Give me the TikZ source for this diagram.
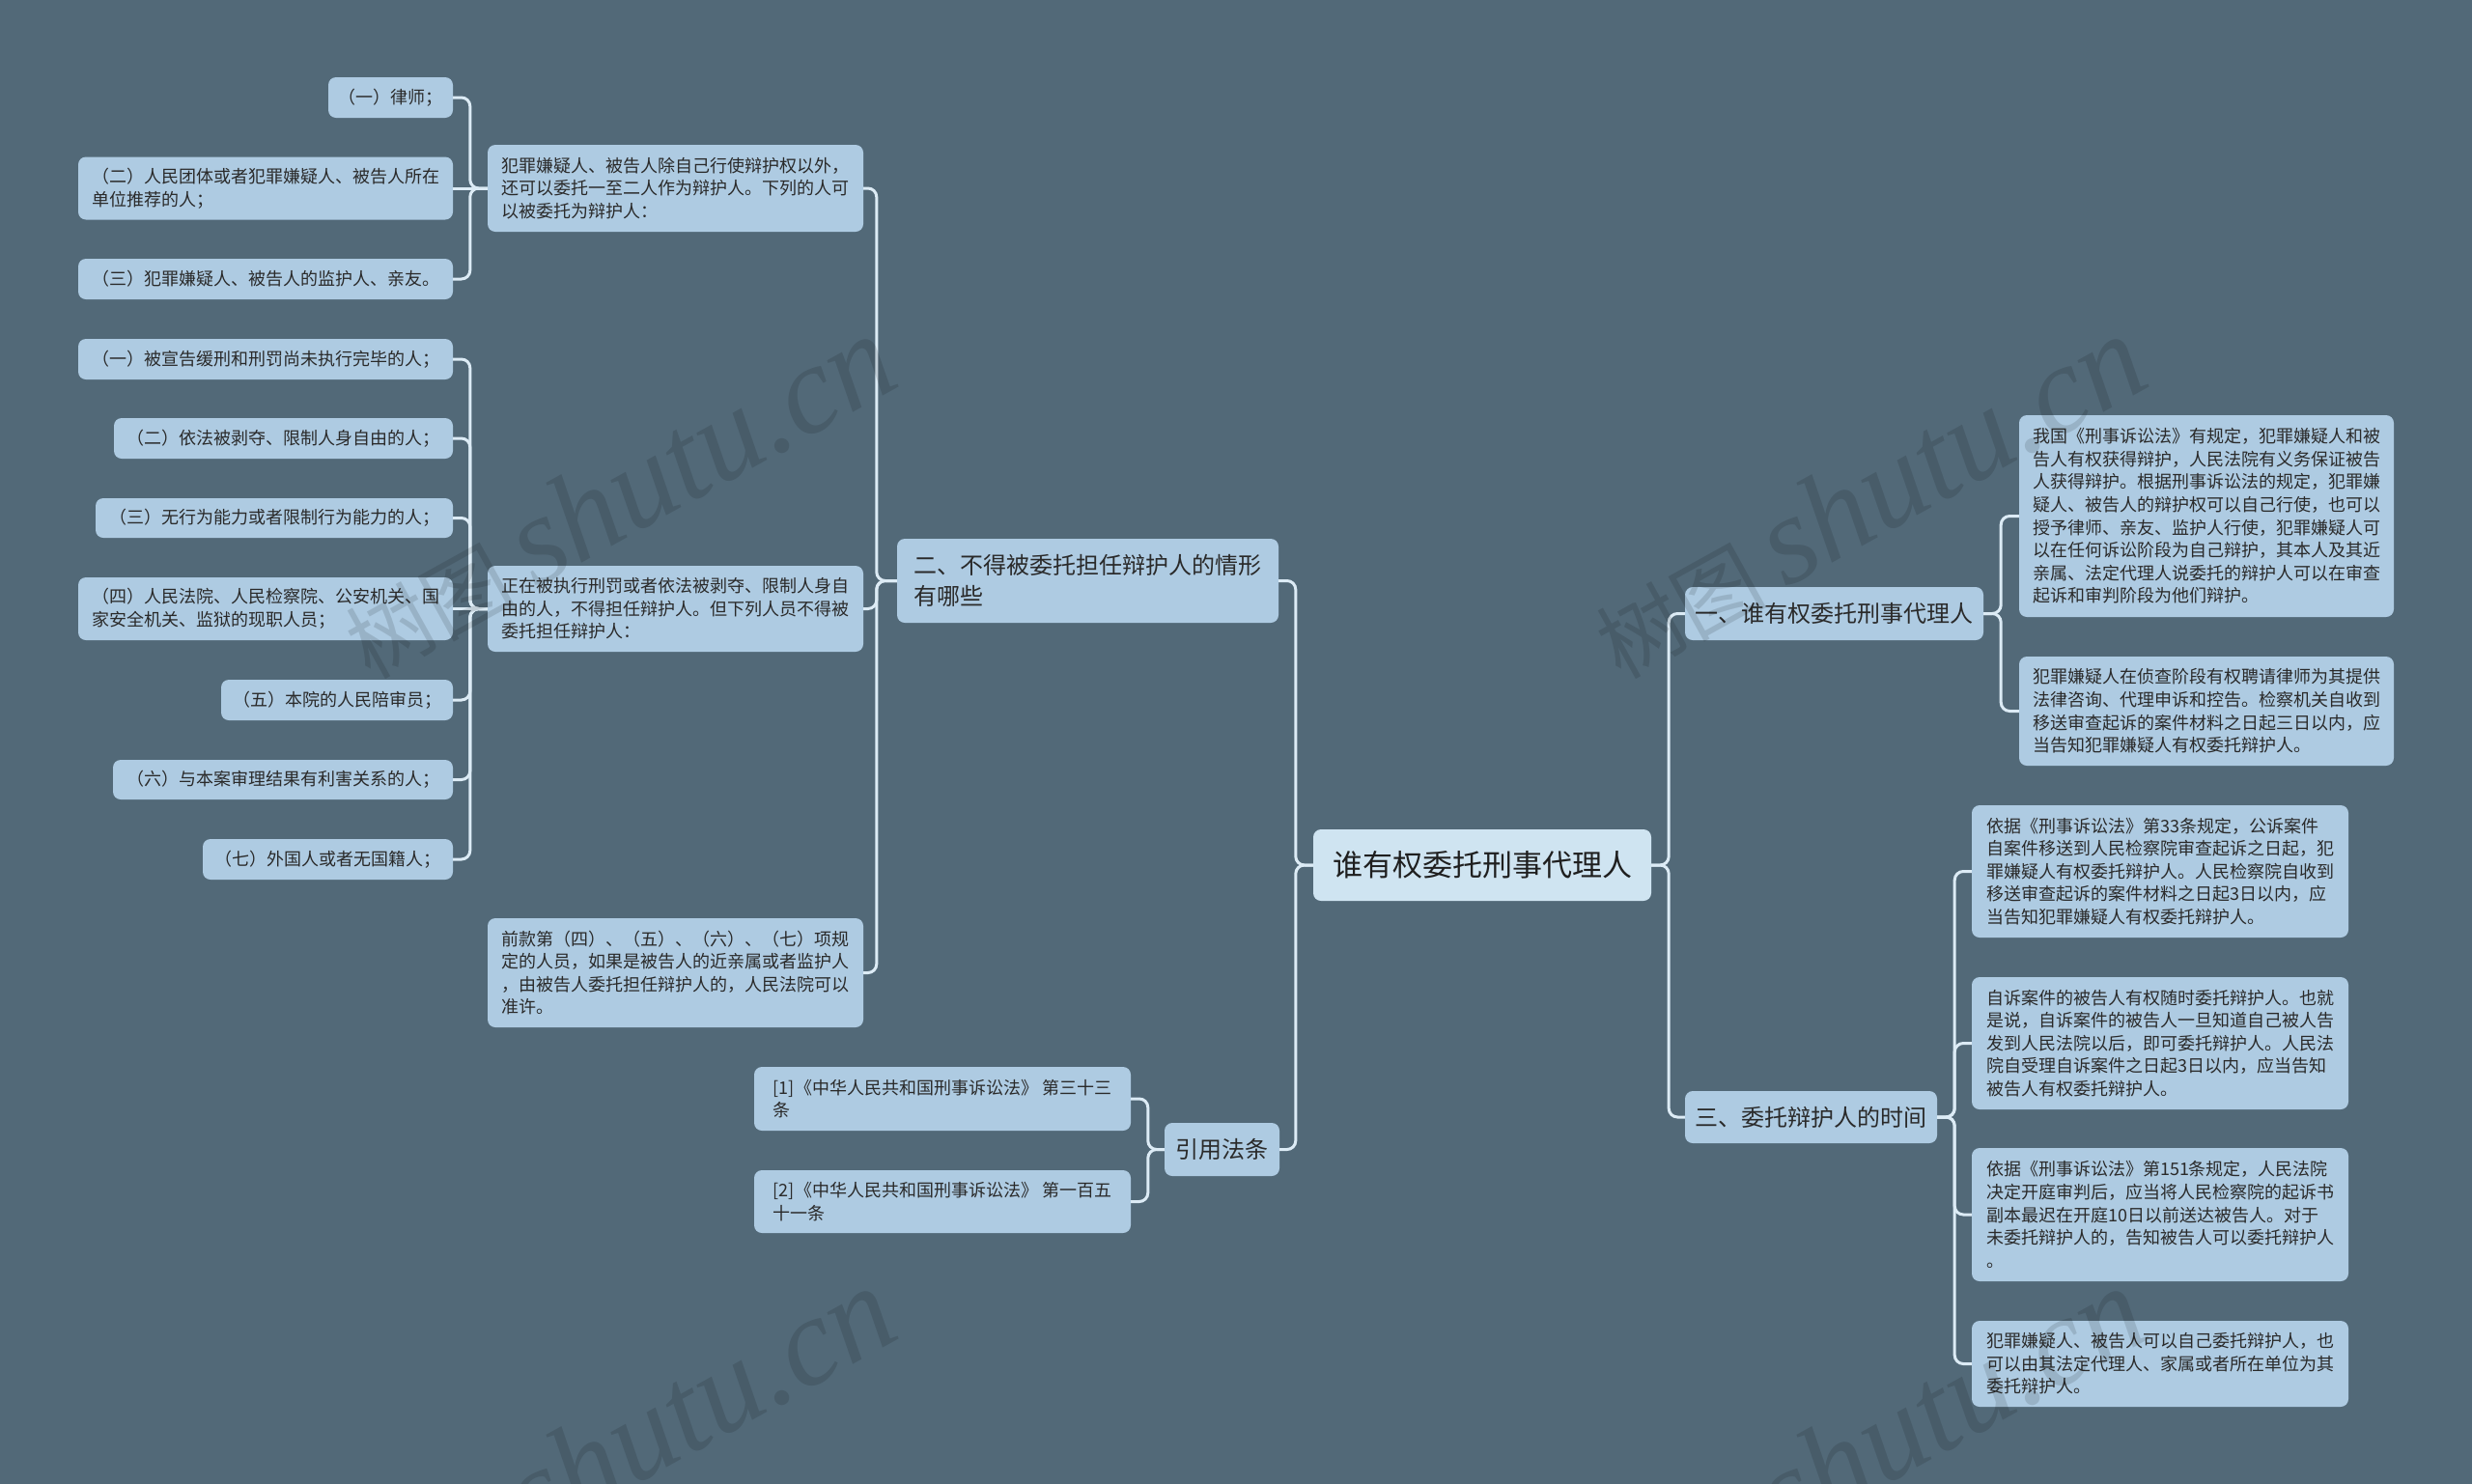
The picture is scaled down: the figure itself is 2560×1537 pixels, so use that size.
\documentclass[tikz,border=0pt]{standalone}
\usepackage{fontspec}
\setmainfont{Noto Sans CJK SC}
\newfontfamily\wmlatin{Liberation Serif}
\definecolor{bg}{HTML}{526978}
\definecolor{boxfill}{HTML}{AECBE2}
\definecolor{rootfill}{HTML}{CFE4F1}
\definecolor{linec}{HTML}{DCEBF5}
\definecolor{txt}{HTML}{2A2A2A}
\tikzset{
  box/.style={rectangle, rounded corners=8pt, fill=boxfill, text=txt, align=left,
    inner xsep=9pt, inner ysep=0pt, font=\fontsize{18}{23.6}\selectfont},
  lone/.style={box, font=\fontsize{24}{31.6}\selectfont},
  root/.style={box, fill=rootfill, text=black!88, font=\fontsize{31}{36}\selectfont},
  conn/.style={draw=linec, line width=3pt, rounded corners=9pt},
  wm/.style={text=black, text opacity=0.12, inner sep=0pt, font=\fontsize{88}{90}\selectfont}
}
\begin{document}
\begin{tikzpicture}[x=1pt, y=-1pt]
\useasboundingbox (0,0) rectangle (2560,1537);
\fill[bg] (0,0) rectangle (2560,1537);

% root
\node[root, minimum width=350pt, minimum height=74pt] (C) at (1535,896) {谁有权委托刑事代理人};

% level 1
\node[lone, minimum width=309pt, minimum height=55pt] (A1) at (1899.5,635.5) {一、谁有权委托刑事代理人};
\node[lone, minimum width=261pt, minimum height=54pt] (A3) at (1875.5,1157) {三、委托辩护人的时间};
\node[lone, minimum width=395pt, minimum height=87pt] (B2) at (1126.5,601.5) {二、不得被委托担任辩护人的情形\\有哪些};
\node[lone, minimum width=119pt, minimum height=55pt] (B4) at (1265.5,1190.5) {引用法条};

% level 2 left
\node[box, minimum width=389pt, minimum height=90pt] (P1) at (699.5,195) {犯罪嫌疑人、被告人除自己行使辩护权以外，\\还可以委托一至二人作为辩护人。下列的人可\\以被委托为辩护人：};
\node[box, minimum width=389pt, minimum height=89pt] (P2) at (699.5,630.5) {正在被执行刑罚或者依法被剥夺、限制人身自\\由的人，不得担任辩护人。但下列人员不得被\\委托担任辩护人：};
\node[box, minimum width=389pt, minimum height=113pt] (P3) at (699.5,1007.5) {前款第（四）、（五）、（六）、（七）项规\\定的人员，如果是被告人的近亲属或者监护人\\，由被告人委托担任辩护人的，人民法院可以\\准许。};

% leaves of P1
\node[box, minimum width=129pt, minimum height=42pt] (Q1) at (404.5,101) {（一）律师；};
\node[box, minimum width=388pt, minimum height=65pt] (Q2) at (275,195) {（二）人民团体或者犯罪嫌疑人、被告人所在\\单位推荐的人；};
\node[box, minimum width=388pt, minimum height=42pt] (Q3) at (275,289) {（三）犯罪嫌疑人、被告人的监护人、亲友。};

% leaves of P2
\node[box, minimum width=388pt, minimum height=42pt] (R1) at (275,372) {（一）被宣告缓刑和刑罚尚未执行完毕的人；};
\node[box, minimum width=351pt, minimum height=42pt] (R2) at (293.5,454) {（二）依法被剥夺、限制人身自由的人；};
\node[box, minimum width=370pt, minimum height=41pt] (R3) at (284,536.5) {（三）无行为能力或者限制行为能力的人；};
\node[box, minimum width=388pt, minimum height=65pt] (R4) at (275,630.5) {（四）人民法院、人民检察院、公安机关、国\\家安全机关、监狱的现职人员；};
\node[box, minimum width=240pt, minimum height=42pt] (R5) at (349,725) {（五）本院的人民陪审员；};
\node[box, minimum width=352pt, minimum height=41pt] (R6) at (293,807.5) {（六）与本案审理结果有利害关系的人；};
\node[box, minimum width=259pt, minimum height=42pt] (R7) at (339.5,890) {（七）外国人或者无国籍人；};

% leaves of B4
\node[box, minimum width=390pt, minimum height=66pt] (S1) at (976,1138) {[1]《中华人民共和国刑事诉讼法》 第三十三\\条};
\node[box, minimum width=390pt, minimum height=65pt] (S2) at (976,1244.5) {[2]《中华人民共和国刑事诉讼法》 第一百五\\十一条};

% leaves of A1
\node[box, minimum width=388pt, minimum height=209pt] (T1) at (2285,534.5) {我国《刑事诉讼法》有规定，犯罪嫌疑人和被\\告人有权获得辩护，人民法院有义务保证被告\\人获得辩护。根据刑事诉讼法的规定，犯罪嫌\\疑人、被告人的辩护权可以自己行使，也可以\\授予律师、亲友、监护人行使，犯罪嫌疑人可\\以在任何诉讼阶段为自己辩护，其本人及其近\\亲属、法定代理人说委托的辩护人可以在审查\\起诉和审判阶段为他们辩护。};
\node[box, minimum width=388pt, minimum height=113pt] (T2) at (2285,736.5) {犯罪嫌疑人在侦查阶段有权聘请律师为其提供\\法律咨询、代理申诉和控告。检察机关自收到\\移送审查起诉的案件材料之日起三日以内，应\\当告知犯罪嫌疑人有权委托辩护人。};

% leaves of A3
\node[box, minimum width=390pt, minimum height=137pt] (U1) at (2237,902.5) {依据《刑事诉讼法》第33条规定，公诉案件\\自案件移送到人民检察院审查起诉之日起，犯\\罪嫌疑人有权委托辩护人。人民检察院自收到\\移送审查起诉的案件材料之日起3日以内，应\\当告知犯罪嫌疑人有权委托辩护人。};
\node[box, minimum width=390pt, minimum height=137pt] (U2) at (2237,1080.5) {自诉案件的被告人有权随时委托辩护人。也就\\是说，自诉案件的被告人一旦知道自己被人告\\发到人民法院以后，即可委托辩护人。人民法\\院自受理自诉案件之日起3日以内，应当告知\\被告人有权委托辩护人。};
\node[box, minimum width=390pt, minimum height=138pt] (U3) at (2237,1258) {依据《刑事诉讼法》第151条规定，人民法院\\决定开庭审判后，应当将人民检察院的起诉书\\副本最迟在开庭10日以前送达被告人。对于\\未委托辩护人的，告知被告人可以委托辩护人\\。};
\node[box, minimum width=390pt, minimum height=89pt] (U4) at (2237,1412.5) {犯罪嫌疑人、被告人可以自己委托辩护人，也\\可以由其法定代理人、家属或者所在单位为其\\委托辩护人。};

% connectors
\draw[conn] (C.east) -- ++(18,0) |- (A1.west);
\draw[conn] (C.east) -- ++(18,0) |- (A3.west);
\draw[conn] (C.west) -- ++(-18,0) |- (B2.east);
\draw[conn] (C.west) -- ++(-18,0) |- (B4.east);

\draw[conn] (A1.east) -- ++(18,0) |- (T1.west);
\draw[conn] (A1.east) -- ++(18,0) |- (T2.west);

\foreach \n in {U1,U2,U3,U4} \draw[conn] (A3.east) -- ++(18,0) |- (\n.west);

\foreach \n in {P1,P2,P3} \draw[conn] (B2.west) -- ++(-21,0) |- (\n.east);

\draw[conn] (P1.west) -- ++(-18,0) |- (Q1.east);
\draw[conn] (P1.west) -- (Q2.east);
\draw[conn] (P1.west) -- ++(-18,0) |- (Q3.east);

\foreach \n in {R1,R2,R3,R5,R6,R7} \draw[conn] (P2.west) -- ++(-18,0) |- (\n.east);
\draw[conn] (P2.west) -- (R4.east);

\draw[conn] (B4.west) -- ++(-17,0) |- (S1.east);
\draw[conn] (B4.west) -- ++(-17,0) |- (S2.east);

% watermarks
\node[wm, rotate=29] (wm1) at (640,515) {树图 {\wmlatin\itshape\fontsize{130}{130}\selectfont shutu.cn}};
\node[wm, rotate=29] (wm2) at (1935,515) {树图 {\wmlatin\itshape\fontsize{130}{130}\selectfont shutu.cn}};
\node[wm, rotate=29] (wm3) at (640,1501) {树图 {\wmlatin\itshape\fontsize{130}{130}\selectfont shutu.cn}};
\node[wm, rotate=29] (wm4) at (1935,1501) {树图 {\wmlatin\itshape\fontsize{130}{130}\selectfont shutu.cn}};
\end{tikzpicture}
\end{document}
